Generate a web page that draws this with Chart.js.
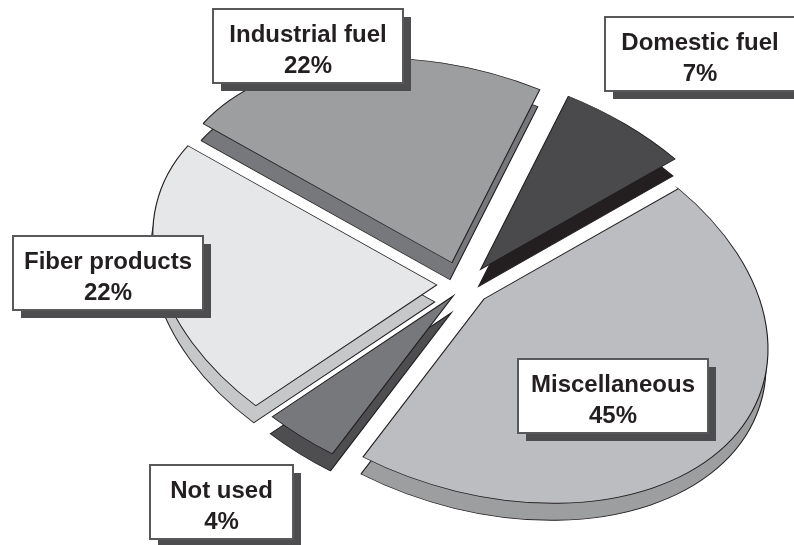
<!DOCTYPE html>
<html><head><meta charset="utf-8">
<script src="https://cdn.jsdelivr.net/npm/chart.js@4.4.1/dist/chart.umd.min.js"></script>
<style>html,body{margin:0;padding:0;background:#fff}canvas{display:block}</style>
</head><body>
<canvas id="c" width="794" height="545"></canvas>
<script>
// ---- data ----
const categories = ['Industrial fuel', 'Domestic fuel', 'Miscellaneous', 'Not used', 'Fiber products'];
const shares = [22, 7, 45, 4, 22];

// ---- styles / layout ----
const topColors  = ['#9d9ea0', '#4a4a4d', '#bcbdc0', '#77787b', '#e6e7e8'];
const sideColors = ['#77787b', '#231f20', '#9d9ea0', '#4e4e51', '#c6c7c9'];
const explode = [23, 23, 17, 14, 19.5];
const view = { cx: 464, cy: 286, tiltDeg: 18, sx: 1.46, sy: 0.9636, depthX: -2, depthY: 17 };
const labelBoxes = [
  { x: 213, y: 9,   w: 190 },
  { x: 605, y: 17,  w: 196 },
  { x: 518, y: 359, w: 190 },
  { x: 150, y: 465, w: 143 },
  { x: 13,  y: 236, w: 190 }
];

const total = shares.reduce((a, b) => a + b, 0);
const percentLabels = shares.map(v => Math.round(v / total * 100) + '%');

const pie3d = {
  id: 'pie3d',
  beforeDatasetsDraw(chart) {
    const ctx = chart.ctx;
    const arcs = chart.getDatasetMeta(0).data;
    const t = view.tiltDeg * Math.PI / 180, c = Math.cos(t), s = Math.sin(t);
    const a11 = view.sx * c * c + view.sy * s * s;
    const a12 = (view.sx - view.sy) * s * c;
    const a22 = view.sx * s * s + view.sy * c * c;
    const layer = (dx, dy, colors) => {
      arcs.forEach((arc, i) => {
        const mid = (arc.startAngle + arc.endAngle) / 2;
        ctx.save();
        ctx.translate(view.cx + dx, view.cy + dy);
        ctx.transform(a11, a12, a12, a22, 0, 0);
        ctx.translate(Math.cos(mid) * explode[i], Math.sin(mid) * explode[i]);
        ctx.translate(-arc.x, -arc.y);
        const saved = arc.options;
        arc.options = Object.assign({}, saved, { backgroundColor: colors[i], offset: 0 });
        arc.draw(ctx);
        arc.options = saved;
        ctx.restore();
      });
    };
    layer(view.depthX, view.depthY, sideColors);
    layer(0, 0, topColors);
    return false;
  }
};

const boxLabels = {
  id: 'boxLabels',
  afterDraw(chart) {
    const ctx = chart.ctx;
    categories.forEach((name, i) => {
      const b = labelBoxes[i], h = 74;
      ctx.save();
      ctx.fillStyle = '#4d4d4f';
      ctx.fillRect(b.x + 8, b.y + 8, b.w, h);
      ctx.fillStyle = '#ffffff';
      ctx.fillRect(b.x, b.y, b.w, h);
      ctx.strokeStyle = '#58595b';
      ctx.lineWidth = 2;
      ctx.strokeRect(b.x, b.y, b.w, h);
      ctx.fillStyle = '#231f20';
      ctx.font = 'bold 24px "Liberation Sans", Arial, sans-serif';
      ctx.textAlign = 'center';
      ctx.textBaseline = 'alphabetic';
      const cxText = i === 1 ? b.x + 95 : b.x + b.w / 2;
      ctx.fillText(name, cxText, b.y + 33);
      ctx.fillText(percentLabels[i], cxText, b.y + 64);
      ctx.restore();
    });
  }
};

new Chart(document.getElementById('c'), {
  type: 'pie',
  data: {
    labels: categories,
    datasets: [{
      data: shares,
      backgroundColor: topColors,
      borderColor: '#231f20',
      borderWidth: 0.8,
      borderJoinStyle: 'miter',
      offset: 0,
      hoverOffset: 0,
      radius: 200
    }]
  },
  options: {
    responsive: false,
    animation: false,
    devicePixelRatio: 1,
    rotation: 304.7,
    layout: { padding: 0 },
    plugins: { legend: { display: false }, tooltip: { enabled: false } },
    events: []
  },
  plugins: [pie3d, boxLabels]
});
</script>
</body></html>
